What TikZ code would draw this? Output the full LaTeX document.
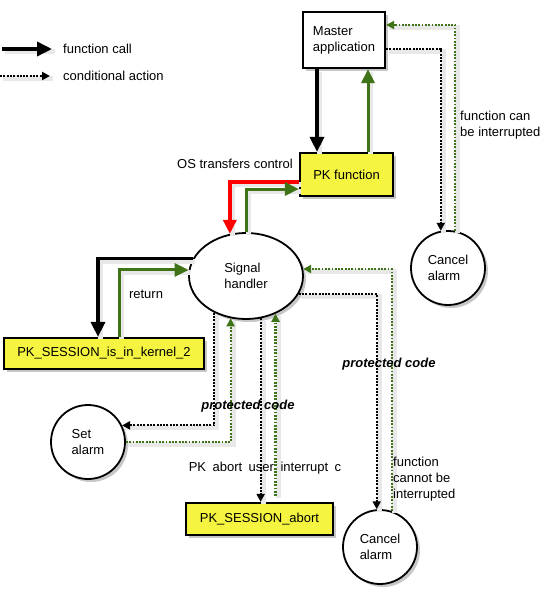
\documentclass[tikz,border=0pt]{standalone}
\usepackage{fontspec}
\setmainfont{Liberation Sans}
\usetikzlibrary{arrows.meta,shadows,shapes.geometric,calc}
\definecolor{ygreen}{HTML}{3F7317}
\definecolor{byellow}{HTML}{F4F441}
\begin{document}
\begin{tikzpicture}[x=1pt,y=-1pt,
  font=\fontsize{13}{16}\selectfont,
  nshadow/.style={drop shadow={shadow xshift=3pt,shadow yshift=-3pt,opacity=0.22,fill=black}},
  plainbox/.style={draw, line width=2.2pt, fill=white, inner sep=0pt, align=left, nshadow},
  ybox/.style={draw, line width=2.2pt, fill=byellow, inner sep=0pt, align=center, nshadow},
  circ/.style={draw, circle, line width=1.8pt, fill=white, minimum size=74pt, inner sep=0pt, align=left, nshadow},
  ell/.style={draw, ellipse, line width=1.8pt, fill=white, minimum width=114pt, minimum height=86pt, inner sep=0pt, align=left, nshadow},
  lbl/.style={inner sep=0pt, align=left},
  plbl/.style={inner sep=0pt, font=\fontsize{13}{16}\selectfont\bfseries\itshape},
  lineshadow/.style={preaction={draw=black!9, line width=5pt, solid, arrows=-, transform canvas={xshift=2.5pt,yshift=-2.5pt}}},
  callblack/.style={black, line width=3.5pt, -{Triangle[length=15pt,width=14pt]}, lineshadow},
  callgreen/.style={ygreen, line width=3pt, -{Triangle[length=14pt,width=13pt]}, lineshadow},
  callred/.style={red, line width=3.5pt, -{Triangle[length=14pt,width=13pt]}, lineshadow},
  condblack/.style={black, line width=2.2pt, dash pattern=on 2pt off 1.3pt, -{Triangle[length=8pt,width=8pt]}, lineshadow},
  condgreen/.style={ygreen, line width=2.2pt, dash pattern=on 1.8pt off 1.5pt, -{Triangle[length=8pt,width=8pt]}, lineshadow}
]
\useasboundingbox (0,0) rectangle (547,594);

% legend
\coordinate (la1) at (2,49);
\coordinate (la2) at (52,49);
\draw[callblack] (la1) -- (la2);
\node[lbl, anchor=west] (lt1) at (63,49) {function call};
\coordinate (lb1) at (0,76);
\coordinate (lb2) at (50,76);
\draw[condblack] (lb1) -- (lb2);
\node[lbl, anchor=west] (lt2) at (63,76) {conditional action};

% nodes
\node[plainbox, minimum width=82pt, minimum height=56pt] (master) at (344,40) {Master\\application};
\node[ybox, minimum width=93pt, minimum height=43pt] (pkf) at (346.5,174.5) {PK function};
\node[circ] (cancel1) at (448,268) {Cancel\\alarm};
\node[ell] (sig) at (246,276) {Signal\\handler};
\node[ybox, minimum width=200pt, minimum height=31pt] (kern) at (104,353.5) {PK\_SESSION\_is\_in\_kernel\_2};
\node[circ] (setal) at (88,442) {Set\\alarm};
\node[ybox, minimum width=147pt, minimum height=32pt] (abort) at (259.5,519) {PK\_SESSION\_abort};
\node[circ] (cancel2) at (380,547) {Cancel\\alarm};

% connectors
\draw[callblack] (master.south -| 317,0) -- (pkf.north -| 317,0);
\draw[callgreen] (pkf.north -| 368,0) -- (master.south -| 368,0);
\draw[condblack] (master.east |- 0,49) -| (cancel1.101);
\draw[condgreen] (cancel1.79) |- (master.east |- 0,25);
\draw[callred] (pkf.west |- 0,182) -| (sig.111);
\draw[callgreen] (sig.north) |- (pkf.west |- 0,189);
\draw[callblack] (sig.162) -| ([xshift=-6pt]kern.north);
\draw[callgreen] ([xshift=15pt]kern.north) |- (sig.174);
\draw[condblack] (sig.229) |- (setal.26);
\draw[condgreen] (setal.east) -| (sig.250);
\draw[condblack] (sig.289) -- (sig.289 |- abort.north);
\draw[condgreen] ([yshift=6pt]sig.308 |- abort.north) -- (sig.308);
\draw[condblack] (sig.341) -| (cancel2.95);
\draw[condgreen] (cancel2.72) |- (sig.7);

% labels
\node[lbl, anchor=east] (ostc) at (293,164) {OS transfers control};
\node[lbl, anchor=west] (fci) at (460,125) {function can\\be interrupted};
\node[lbl] (ret) at (146,294) {return};
\node[plbl] (pc1) at (389,364) {protected code};
\node[plbl] (pc2) at (248,406) {protected code};
\node[lbl] (pkab) at (265,468) {PK\hspace{6.5pt}abort\hspace{6.5pt}user\hspace{6.5pt}interrupt\hspace{6.5pt}c};
\node[lbl, anchor=west] (fcni) at (393,479) {function\\cannot be\\interrupted};
\end{tikzpicture}
\end{document}
